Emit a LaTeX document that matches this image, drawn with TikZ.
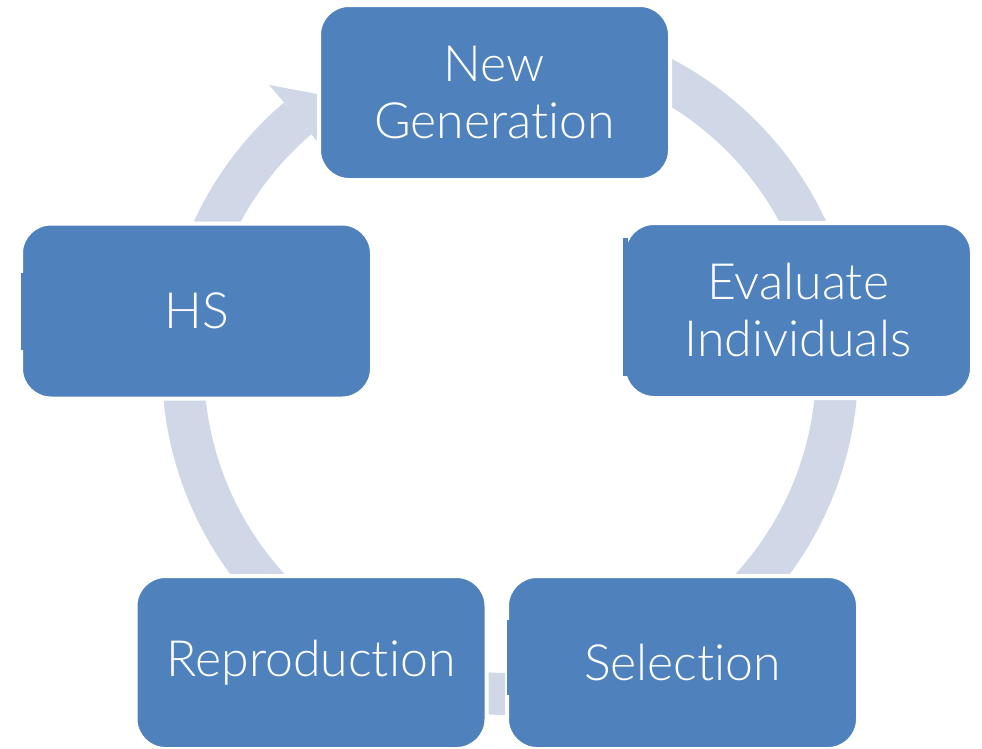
\documentclass[tikz,border=0pt]{standalone}
\usepackage{fontspec}
\setmainfont{Lato Light}[Ligatures={NoCommon}]
\usetikzlibrary{calc}
\definecolor{boxblue}{HTML}{4F81BD}
\definecolor{ringgrey}{HTML}{D0D8E8}
\tikzset{
  stage/.style={draw=white, line width=4pt, fill=boxblue, rounded corners=30pt,
    minimum width=351pt, minimum height=175pt, inner sep=0pt,
    text=white, align=center, font=\fontsize{50}{57}\selectfont},
  ring/.style={draw=ringgrey, line width=42pt},
  head/.style={fill=ringgrey},
  tab/.style={fill=boxblue}
}
\begin{document}
\begin{tikzpicture}[x=1pt, y=-1pt]
  \useasboundingbox (0,0) rectangle (982,748);
  \coordinate (C) at (510,367);

  % cycle ring, broken just behind the arrow head
  \draw[ring] ([shift={(C)}]-110:327) arc[start angle=-110, end angle=229.5, radius=327];
  % arrow head pointing into the top stage
  \fill[head] ($(C)+(229.5:371)$) -- ($(C)+(236:327)$) -- ($(C)+(229.5:283)$) -- cycle;

  % stages
  \node[stage] (gen) at (494.5,92.5) {New\\Generation};
  \node[stage, minimum width=348pt] (eval) at (798,310.5) {Evaluate\\Individuals};
  \node[stage, minimum height=173pt] (sel) at (682.5,662.5) {Selection};
  \node[stage, minimum height=173pt] (rep) at (311,662.5) {Reproduction};
  \node[stage] (hs) at (196.5,311) {HS};

  % small tabs on the left edges
  \fill[tab] (21,273) rectangle (25,350);
  \fill[tab] (623,238) rectangle (628,376);
  \fill[tab] (507,620) rectangle (511,695);
\end{tikzpicture}
\end{document}
